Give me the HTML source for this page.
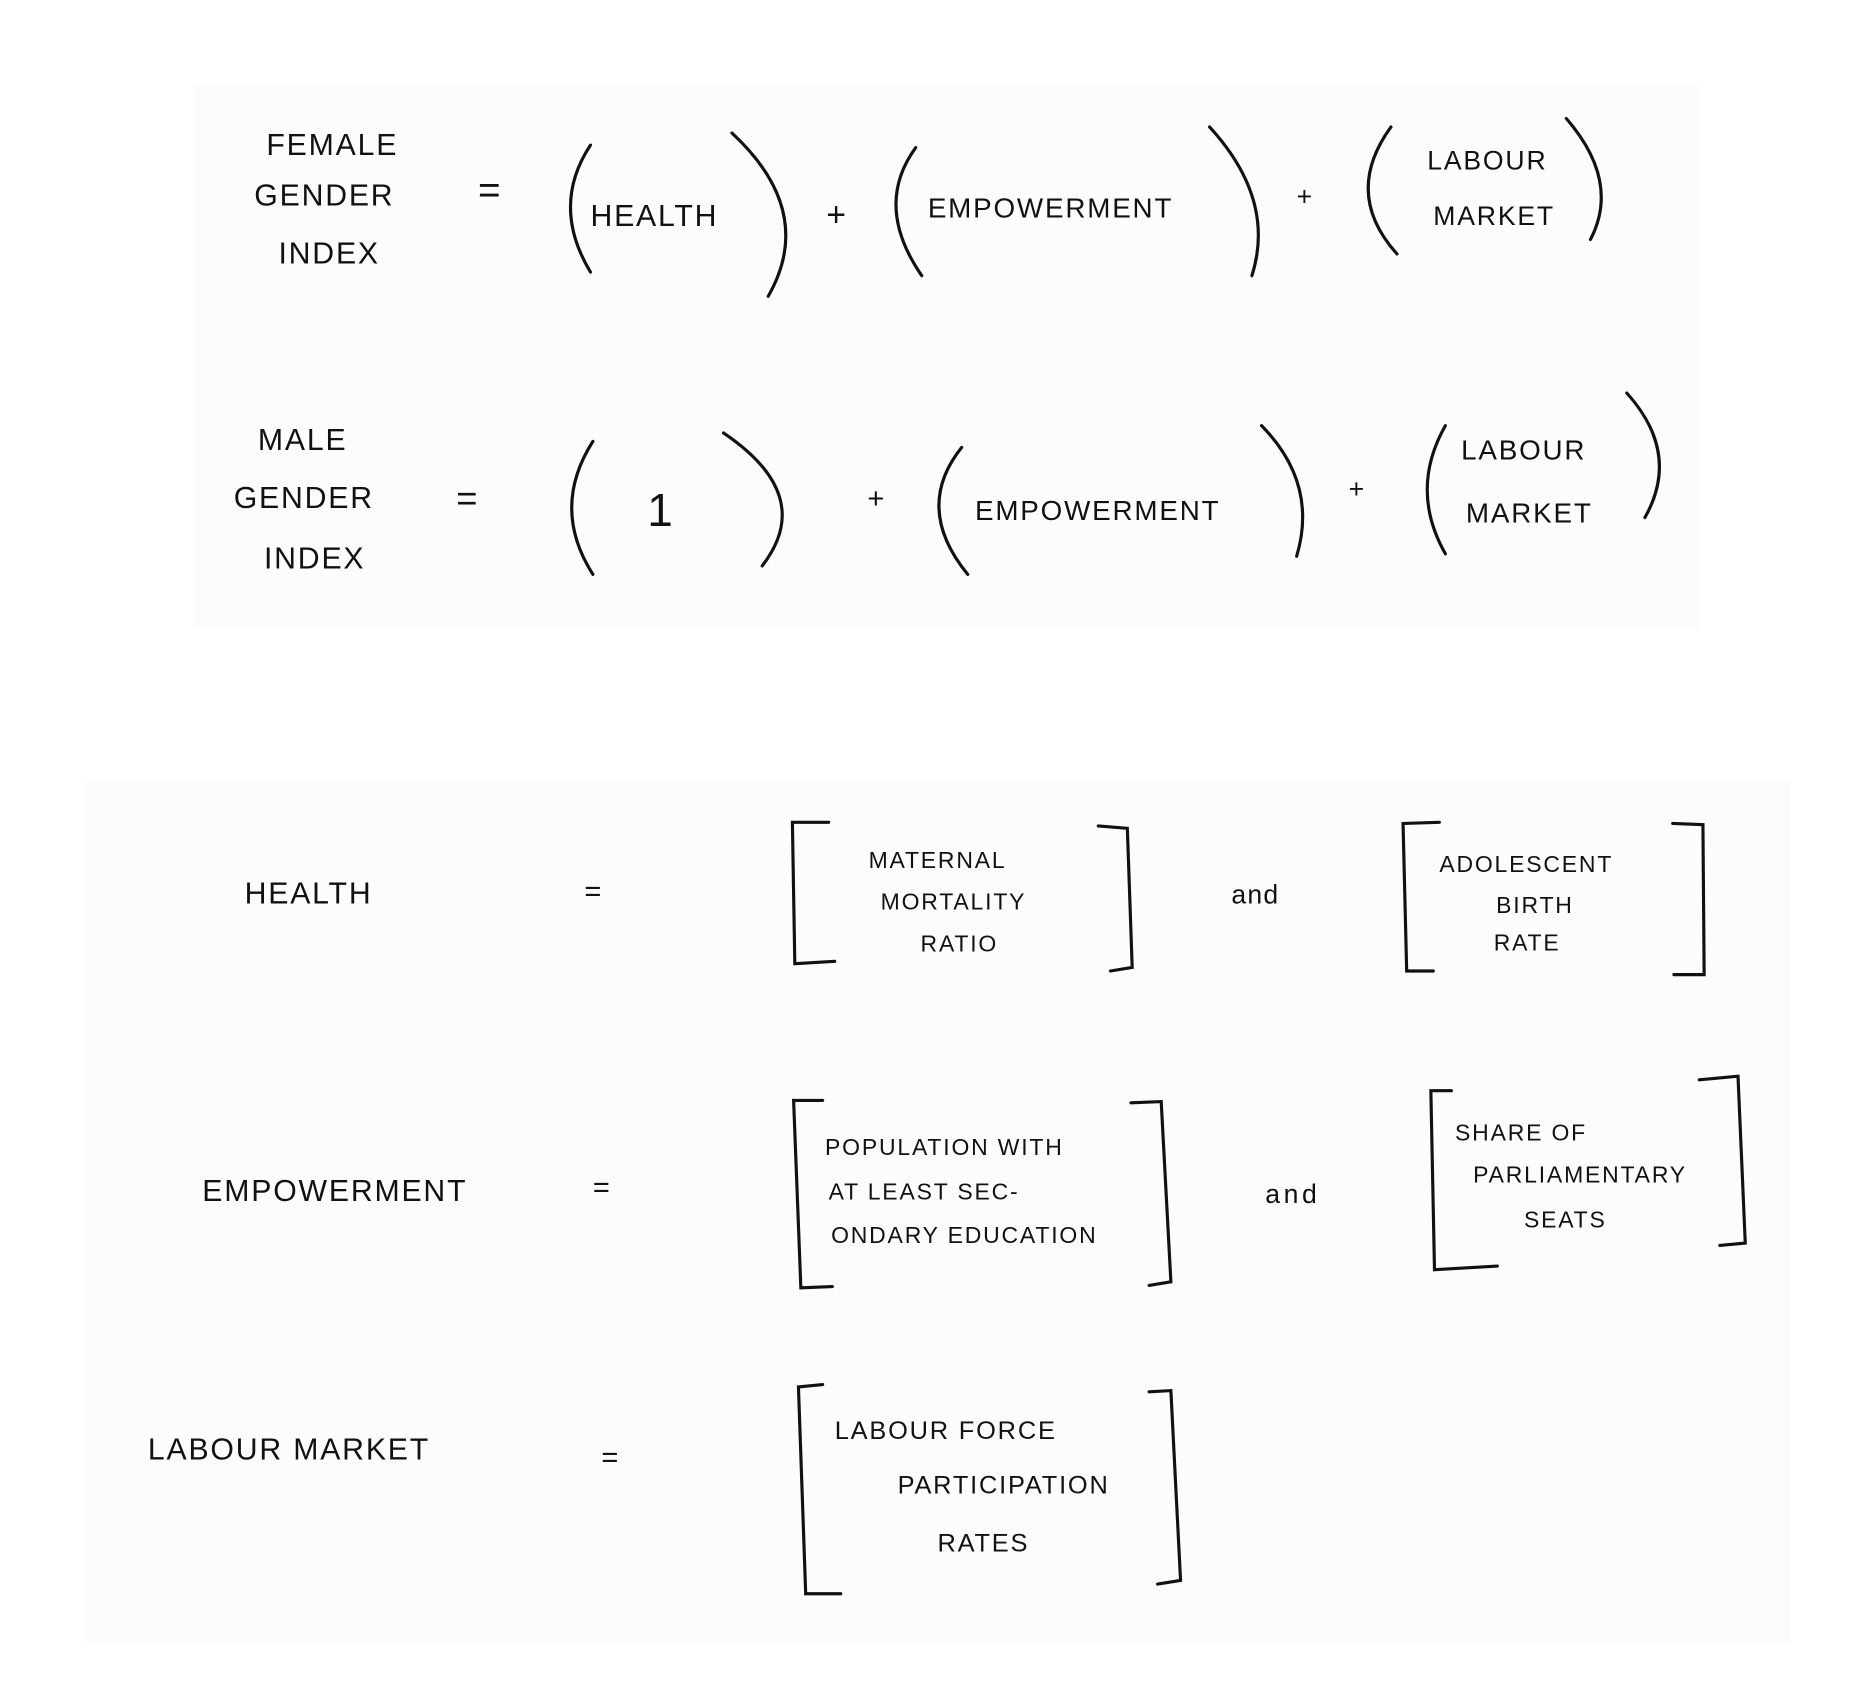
<!DOCTYPE html>
<html><head><meta charset="utf-8"><style>
html,body{margin:0;padding:0;background:#fff;}
svg{display:block}
text{font-family:"Liberation Sans",sans-serif;fill:#111;letter-spacing:1.5px}
</style></head><body>
<svg width="1875" height="1705" viewBox="0 0 1550 1410" xmlns="http://www.w3.org/2000/svg">
<rect width="1550" height="1410" fill="#fff"/>
<rect x="160" y="70" width="1245" height="450" fill="#fcfcfc"/>
<rect x="70" y="645" width="1410" height="715" fill="#fcfcfc"/>
<g fill="none" stroke="#111" stroke-width="2.6" stroke-linecap="round">
<path d="M488 120 Q455 170 488 225"/><path d="M605 110 Q675 175 635 245"/>
<path d="M757 122 Q722 170 762 228"/><path d="M1000 105 Q1055 165 1035 228"/>
<path d="M1150 105 Q1110 160 1155 210"/><path d="M1295 98 Q1340 150 1315 198"/>
<path d="M490 365 Q455 420 490 475"/><path d="M598 358 Q675 410 630 468"/>
<path d="M795 370 Q755 420 800 475"/><path d="M1043 352 Q1090 400 1072 460"/>
<path d="M1195 352 Q1165 405 1195 458"/><path d="M1345 325 Q1390 375 1360 428"/>
<path d="M685 680 L655 680 L657 797 L690 795"/><path d="M908 683 L932 685 L936 800 L918 803"/>
<path d="M1190 680 L1160 681 L1163 803 L1185 803"/><path d="M1383 681 L1408 682 L1409 806 L1384 806"/>
<path d="M680 910 L656 910 L662 1065 L688 1064"/><path d="M935 912 L960 911 L968 1060 L950 1063"/>
<path d="M1200 902 L1183 902 L1186 1050 L1238 1047"/><path d="M1405 893 L1437 890 L1443 1028 L1422 1030"/>
<path d="M680 1145 L660 1147 L666 1318 L695 1318"/><path d="M950 1151 L968 1150 L976 1307 L957 1310"/>
</g>
<g font-size="25">
<text x="220" y="128">FEMALE</text><text x="210" y="170">GENDER</text><text x="230" y="218">INDEX</text>
<text x="395" y="168" font-size="32">=</text>
<text x="488" y="187">HEALTH</text><text x="683" y="187" font-size="28">+</text>
<text x="767" y="180" font-size="23">EMPOWERMENT</text><text x="1072" y="170" font-size="22">+</text>
<text x="1180" y="140" font-size="22">LABOUR</text><text x="1185" y="186" font-size="22">MARKET</text>
<text x="213" y="372">MALE</text><text x="193" y="420">GENDER</text><text x="218" y="470">INDEX</text>
<text x="377" y="422" font-size="30">=</text>
<text x="535" y="435" font-size="38">1</text><text x="717" y="420" font-size="24">+</text>
<text x="806" y="430" font-size="23">EMPOWERMENT</text><text x="1115" y="412" font-size="22">+</text>
<text x="1208" y="380" font-size="23">LABOUR</text><text x="1212" y="432" font-size="23">MARKET</text>
<text x="202" y="747">HEALTH</text><text x="483" y="745" font-size="24">=</text>
<text x="718" y="718" font-size="19">MATERNAL</text><text x="728" y="752" font-size="19">MORTALITY</text><text x="761" y="787" font-size="19">RATIO</text>
<text x="1018" y="747" font-size="22" style="letter-spacing:1px">and</text>
<text x="1190" y="721" font-size="19">ADOLESCENT</text><text x="1237" y="755" font-size="19">BIRTH</text><text x="1235" y="786" font-size="19">RATE</text>
<text x="167" y="993">EMPOWERMENT</text><text x="490" y="990" font-size="24">=</text>
<text x="682" y="955" font-size="19">POPULATION  WITH</text><text x="685" y="992" font-size="19">AT  LEAST  SEC-</text><text x="687" y="1028" font-size="19">ONDARY EDUCATION</text>
<text x="1046" y="995" font-size="22" style="letter-spacing:3px">and</text>
<text x="1203" y="943" font-size="19">SHARE   OF</text><text x="1218" y="978" font-size="19">PARLIAMENTARY</text><text x="1260" y="1015" font-size="19">SEATS</text>
<text x="122" y="1207">LABOUR  MARKET</text><text x="497" y="1213" font-size="24">=</text>
<text x="690" y="1190" font-size="21">LABOUR   FORCE</text><text x="742" y="1235" font-size="21">PARTICIPATION</text><text x="775" y="1283" font-size="21">RATES</text>
</g>
</svg>
</body></html>
